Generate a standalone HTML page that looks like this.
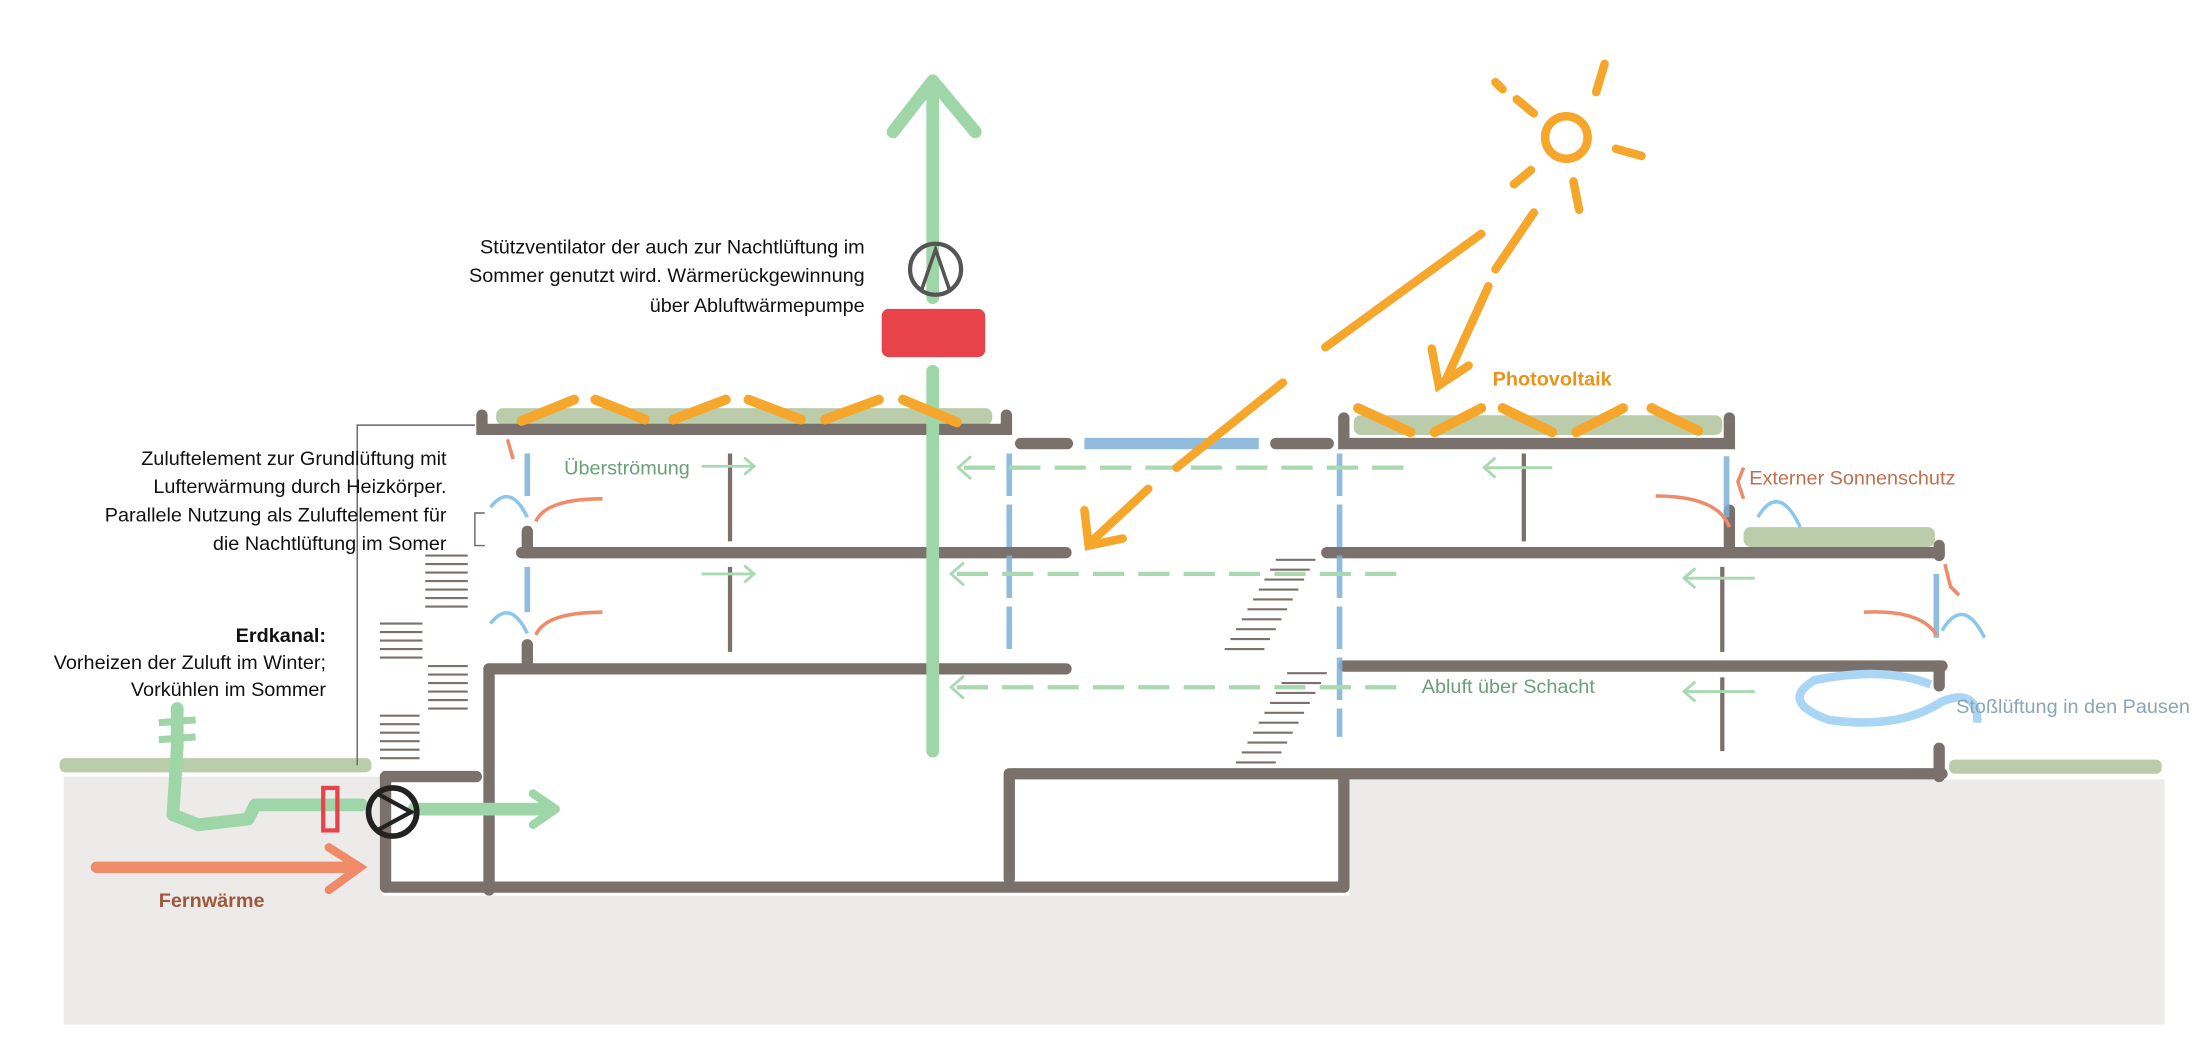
<!DOCTYPE html>
<html><head><meta charset="utf-8"><style>
html,body{margin:0;padding:0;background:#fff;}
svg{display:block;font-family:"Liberation Sans",sans-serif;}
</style></head><body>
<svg width="2200" height="1060" viewBox="0 0 1552 748" preserveAspectRatio="none" xmlns="http://www.w3.org/2000/svg">
<!-- ground -->
<path d="M45 548 L270 548 L270 632 L952 632 L952 550 L1527 550 L1527 723 L45 723 Z" fill="#ecebe9"/>
<!-- grass -->
<g fill="#a9bf95" opacity="0.8">
<rect x="42" y="535" width="220" height="10" rx="4"/>
<rect x="1375" y="536" width="150" height="10" rx="4"/>
<rect x="1230" y="372" width="135" height="14" rx="5"/>
<rect x="350" y="288" width="350" height="12" rx="5"/>
<rect x="955" y="293" width="260" height="14" rx="5"/>
</g>
<!-- building lines -->
<g stroke="#7b716c" stroke-width="8" fill="none" stroke-linecap="round">
<path d="M340 293 L340 303 L710 303 L710 293"/>
<path d="M948 295 L948 313 L1220 313 L1220 295"/>
<line x1="720" y1="313" x2="753" y2="313"/>
<line x1="900" y1="313" x2="937" y2="313"/>
<line x1="368" y1="390" x2="752" y2="390"/>
<line x1="936" y1="390" x2="1368" y2="390"/>
<line x1="345" y1="472" x2="752" y2="472"/>
<line x1="948" y1="470" x2="1370" y2="470"/>
<line x1="345" y1="472" x2="345" y2="628"/>
<line x1="272" y1="548" x2="336" y2="548"/>
<line x1="272" y1="548" x2="272" y2="626"/>
<line x1="272" y1="626" x2="948" y2="626"/>
<line x1="712" y1="546" x2="712" y2="620"/>
<line x1="948" y1="548" x2="948" y2="626"/>
<line x1="714" y1="546" x2="1370" y2="546"/>
<line x1="1368" y1="470" x2="1368" y2="484"/>
<line x1="1368" y1="528" x2="1368" y2="548"/>
<line x1="1368" y1="385" x2="1368" y2="392"/>
<line x1="372" y1="455" x2="372" y2="470"/>
<line x1="372" y1="375" x2="372" y2="390"/>
<line x1="1220" y1="360" x2="1220" y2="385"/>
</g>
<g stroke="#7b716c" stroke-width="3">
<line x1="515" y1="320" x2="515" y2="382"/><line x1="515" y1="400" x2="515" y2="460"/>
<line x1="1075" y1="320" x2="1075" y2="382"/>
<line x1="1215" y1="400" x2="1215" y2="460"/><line x1="1215" y1="478" x2="1215" y2="530"/>
</g>
<!-- thin guide lines left -->
<g stroke="#666" stroke-width="1" fill="none">
<path d="M335 300 L252 300 L252 540"/>
<path d="M342 362 L335 362 L335 385 L342 385"/>
</g>
<!-- stairs hatches -->
<g stroke="#7b716c" stroke-width="1.5">
<line x1="300" y1="392" x2="330" y2="392"/><line x1="300" y1="398" x2="330" y2="398"/><line x1="300" y1="404" x2="330" y2="404"/><line x1="300" y1="410" x2="330" y2="410"/><line x1="300" y1="416" x2="330" y2="416"/><line x1="300" y1="422" x2="330" y2="422"/><line x1="300" y1="428" x2="330" y2="428"/>
<line x1="268" y1="440" x2="298" y2="440"/><line x1="268" y1="446" x2="298" y2="446"/><line x1="268" y1="452" x2="298" y2="452"/><line x1="268" y1="458" x2="298" y2="458"/><line x1="268" y1="464" x2="298" y2="464"/>
<line x1="302" y1="470" x2="330" y2="470"/><line x1="302" y1="476" x2="330" y2="476"/><line x1="302" y1="482" x2="330" y2="482"/><line x1="302" y1="488" x2="330" y2="488"/><line x1="302" y1="494" x2="330" y2="494"/><line x1="302" y1="500" x2="330" y2="500"/>
<line x1="268" y1="505" x2="296" y2="505"/><line x1="268" y1="511" x2="296" y2="511"/><line x1="268" y1="517" x2="296" y2="517"/><line x1="268" y1="523" x2="296" y2="523"/><line x1="268" y1="529" x2="296" y2="529"/><line x1="268" y1="535" x2="296" y2="535"/>
</g>
<g stroke="#7b716c" stroke-width="1.5">
<line x1="900" y1="395" x2="928" y2="395"/><line x1="896" y1="402" x2="924" y2="402"/><line x1="892" y1="409" x2="920" y2="409"/><line x1="888" y1="416" x2="916" y2="416"/><line x1="884" y1="423" x2="912" y2="423"/><line x1="880" y1="430" x2="908" y2="430"/><line x1="876" y1="437" x2="904" y2="437"/><line x1="872" y1="444" x2="900" y2="444"/><line x1="868" y1="451" x2="896" y2="451"/><line x1="864" y1="458" x2="892" y2="458"/>
<line x1="908" y1="475" x2="936" y2="475"/><line x1="904" y1="482" x2="932" y2="482"/><line x1="900" y1="489" x2="928" y2="489"/><line x1="896" y1="496" x2="924" y2="496"/><line x1="892" y1="503" x2="920" y2="503"/><line x1="888" y1="510" x2="916" y2="510"/><line x1="884" y1="517" x2="912" y2="517"/><line x1="880" y1="524" x2="908" y2="524"/><line x1="876" y1="531" x2="904" y2="531"/><line x1="872" y1="538" x2="900" y2="538"/>
</g>
<!-- blue shafts -->
<g stroke="#7fb0d6" stroke-width="4" opacity="0.85" fill="none">
<line x1="765" y1="313" x2="888" y2="313" stroke-width="8"/>
<line x1="712" y1="320" x2="712" y2="462" stroke-dasharray="30 6"/>
<line x1="945" y1="320" x2="945" y2="520" stroke-dasharray="30 6"/>
<line x1="372" y1="320" x2="372" y2="350"/><line x1="372" y1="400" x2="372" y2="432"/>
<line x1="1218" y1="322" x2="1218" y2="365"/>
<line x1="1366" y1="405" x2="1366" y2="450"/>
</g>
<!-- green main arrow -->
<g stroke="#9fd6a8" stroke-width="9" fill="none" stroke-linecap="round" stroke-linejoin="round">
<line x1="658" y1="530" x2="658" y2="262"/>
<line x1="658" y1="210" x2="658" y2="60"/>
<path d="M630 93 L658 57 L688 93"/>
<path d="M125 500 L125 528 L122 575 L140 582 L175 578 L180 568 L255 568 M292 571 L388 571"/>
<path d="M376 560 L392 571 L376 582" stroke-width="6"/>
</g>
<line x1="112" y1="510" x2="138" y2="508" stroke="#9fd6a8" stroke-width="5"/>
<line x1="112" y1="522" x2="138" y2="520" stroke="#9fd6a8" stroke-width="5"/>
<!-- green dashed arrows -->
<g stroke="#a9d9b0" stroke-width="3" fill="none" stroke-dasharray="22 10">
<line x1="680" y1="330" x2="1000" y2="330"/>
<line x1="675" y1="405" x2="990" y2="405"/>
<line x1="675" y1="485" x2="990" y2="485"/>
</g>
<g stroke="#a9d9b0" stroke-width="2" fill="none">
<path d="M685 322 L676 330 L685 338"/><path d="M680 397 L671 405 L680 413"/><path d="M680 477 L671 485 L680 493"/>
<line x1="1047" y1="330" x2="1095" y2="330"/><path d="M1055 323 L1047 330 L1055 337"/>
<line x1="1188" y1="408" x2="1238" y2="408"/><path d="M1196 401 L1188 408 L1196 415"/>
<line x1="1188" y1="488" x2="1238" y2="488"/><path d="M1196 481 L1188 488 L1196 495"/>
<line x1="495" y1="329" x2="532" y2="329"/><path d="M525 323 L532 329 L525 335"/>
<line x1="495" y1="405" x2="532" y2="405"/><path d="M525 399 L532 405 L525 411"/>
</g>
<!-- fans -->
<circle cx="660" cy="190" r="18" fill="none" stroke="#555" stroke-width="3"/>
<path d="M650 205 L660 176 L670 205" fill="none" stroke="#555" stroke-width="2.5"/>
<rect x="622" y="218" width="73" height="34" rx="5" fill="#e8424a"/>
<circle cx="277" cy="573" r="17" fill="none" stroke="#222" stroke-width="4"/>
<path d="M266 560 L290 573 L266 586" fill="none" stroke="#222" stroke-width="3"/>
<rect x="228" y="556" width="10" height="30" fill="none" stroke="#e8424a" stroke-width="3"/>
<!-- red arrow -->
<g stroke="#f08b6a" stroke-width="8" fill="none" stroke-linecap="round">
<line x1="68" y1="612" x2="248" y2="612"/>
<path d="M232 598 L254 612 L232 628" stroke-width="6"/>
</g>
<!-- small orange/blue arrows windows -->
<g fill="none" stroke-width="2.5">
<path d="M346 358 Q360 340 372 365" stroke="#8cc6ee"/><path d="M378 368 Q385 352 425 352" stroke="#f08b6a"/>
<path d="M346 440 Q360 422 372 447" stroke="#8cc6ee"/><path d="M378 448 Q385 432 425 432" stroke="#f08b6a"/>
<path d="M1240 365 Q1255 340 1270 372" stroke="#8cc6ee"/><path d="M1220 372 Q1212 350 1168 350" stroke="#f08b6a"/>
<path d="M1370 445 Q1385 420 1400 450" stroke="#8cc6ee"/><path d="M1366 448 Q1355 430 1315 432" stroke="#f08b6a"/>
<path d="M1362 483 Q1330 470 1280 480 Q1255 495 1290 508 Q1340 515 1370 495 Q1395 485 1395 510" stroke="#a9d6f5" stroke-width="6"/>
<path d="M358 310 L362 324" stroke="#f08b6a"/><path d="M1230 330 L1226 340 L1230 352" stroke="#f08b6a"/>
<path d="M1372 398 L1376 414 L1382 420" stroke="#f08b6a"/>
</g>
<!-- PV panels -->
<g stroke="#f6a62a" stroke-width="7" stroke-linecap="round">
<line x1="368" y1="297" x2="405" y2="282"/><line x1="420" y1="282" x2="455" y2="296"/><line x1="475" y1="296" x2="512" y2="282"/><line x1="528" y1="282" x2="565" y2="296"/><line x1="582" y1="296" x2="620" y2="282"/><line x1="637" y1="282" x2="675" y2="298"/>
<line x1="958" y1="288" x2="995" y2="305"/><line x1="1012" y1="305" x2="1045" y2="288"/><line x1="1060" y1="288" x2="1095" y2="305"/><line x1="1112" y1="305" x2="1145" y2="288"/><line x1="1165" y1="288" x2="1198" y2="304"/>
</g>
<!-- sun -->
<g stroke="#f6a62a" stroke-width="6" fill="none" stroke-linecap="round">
<circle cx="1105" cy="97" r="15"/>
<line x1="1070" y1="70" x2="1082" y2="80"/><line x1="1132" y1="45" x2="1126" y2="65"/><line x1="1140" y1="105" x2="1158" y2="110"/><line x1="1080" y1="120" x2="1068" y2="130"/><line x1="1110" y1="128" x2="1114" y2="148"/><line x1="1060" y1="63" x2="1055" y2="58"/>
<line x1="1045" y1="165" x2="935" y2="245"/><line x1="905" y1="270" x2="830" y2="330"/><line x1="810" y1="345" x2="770" y2="382"/>
<path d="M765 360 L768 385 L792 380"/>
<line x1="1082" y1="150" x2="1055" y2="190"/><line x1="1050" y1="202" x2="1020" y2="268"/>
<path d="M1010 246 L1015 272 L1036 258"/>
</g>
<!-- texts -->
<g font-size="14" fill="#111" text-anchor="end">
<text x="610" y="179">Stützventilator der auch zur Nachtlüftung im</text>
<text x="610" y="199">Sommer genutzt wird. Wärmerückgewinnung</text>
<text x="610" y="220">über Abluftwärmepumpe</text>
<text x="315" y="328">Zuluftelement zur Grundlüftung mit</text>
<text x="315" y="348">Lufterwärmung durch Heizkörper.</text>
<text x="315" y="368">Parallele Nutzung als Zuluftelement für</text>
<text x="315" y="388">die Nachtlüftung im Somer</text>
<text x="230" y="453" font-weight="bold">Erdkanal:</text>
<text x="230" y="472">Vorheizen der Zuluft im Winter;</text>
<text x="230" y="491">Vorkühlen im Sommer</text>
</g>
<g font-size="14">
<text x="1053" y="272" fill="#e8941c" font-weight="bold">Photovoltaik</text>
<text x="398" y="335" fill="#6aa078">Überströmung</text>
<text x="1234" y="342" fill="#c0704e">Externer Sonnenschutz</text>
<text x="1003" y="489" fill="#6aa078">Abluft über Schacht</text>
<text x="1380" y="503" fill="#8aa5b5">Stoßlüftung in den Pausen</text>
<text x="112" y="640" fill="#a0583a" font-weight="bold">Fernwärme</text>
</g>
</svg>
</body></html>
